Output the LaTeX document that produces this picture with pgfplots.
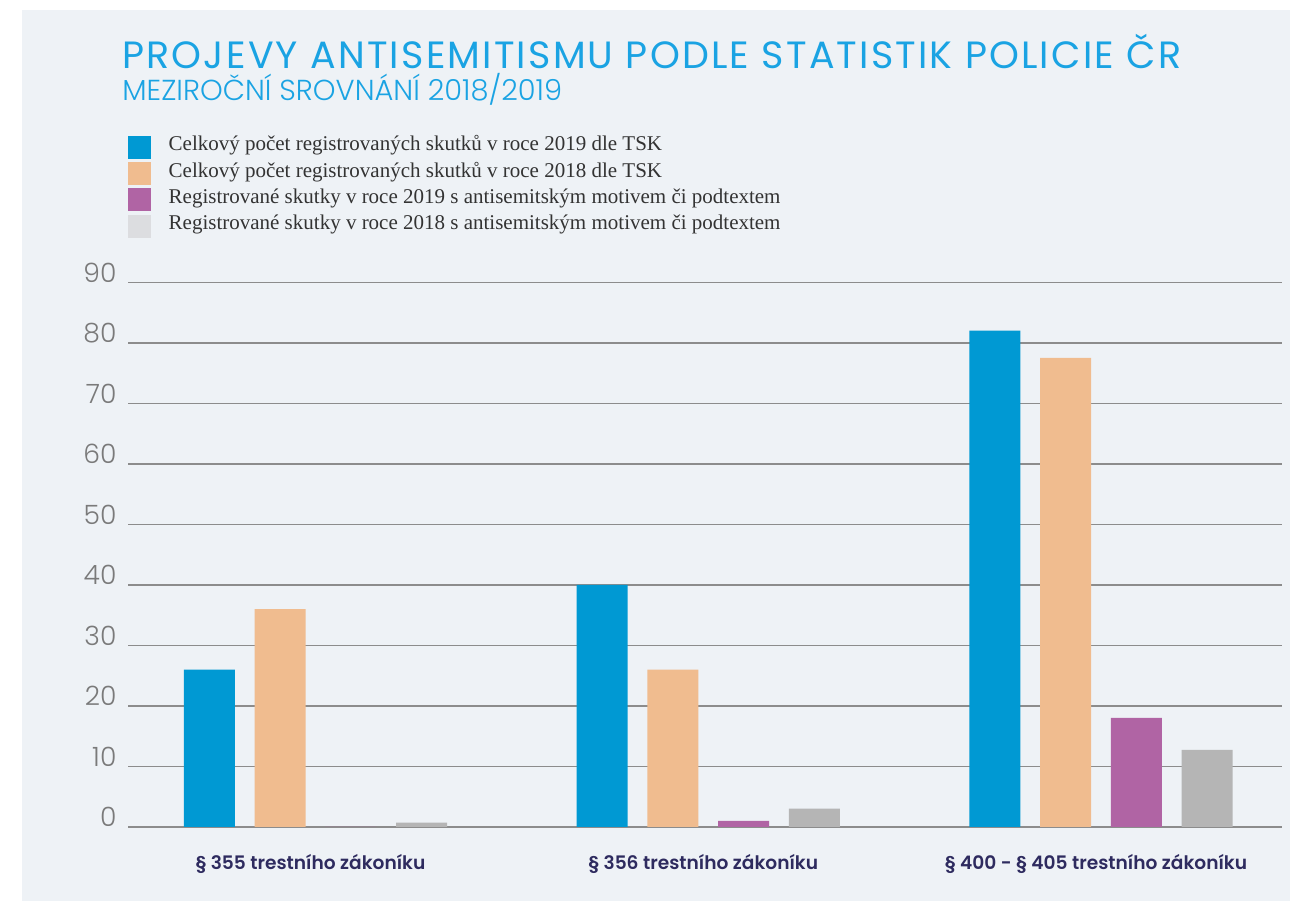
\documentclass[border=0pt]{standalone}
\usepackage{fontspec}
\usepackage{pgfplots}
\pgfplotsset{compat=1.18}
\setmainfont{Liberation Serif}
\newfontfamily\pop{Poppins}
\newfontfamily\popl{Poppins Light}
\newfontfamily\popsb{Poppins SemiBold}

\definecolor{panel}{HTML}{EEF2F6}
\definecolor{titleblue}{HTML}{1AA3E3}
\definecolor{barblue}{HTML}{0099D3}
\definecolor{barorange}{HTML}{F0BC8F}
\definecolor{barpurple}{HTML}{B064A4}
\definecolor{bargrey}{HTML}{B5B5B5}
\definecolor{leggrey}{HTML}{DCDDE0}
\definecolor{gridc}{HTML}{8C8C8C}
\definecolor{tickgrey}{HTML}{7A7A7A}
\definecolor{navy}{HTML}{2E2B5F}
\definecolor{legtext}{HTML}{333333}

\pgfplotsset{
  sq/.style={legend image code/.code={\fill[#1] (0pt,-5.75pt) rectangle (11.5pt,5.75pt);}},
}

\begin{document}
\begin{tikzpicture}
\fill[white] (0,0) rectangle (645pt,450.5pt);
\fill[panel] (11pt,0) rectangle (645pt,445.5pt);
\node[anchor=base west, inner sep=0pt, text=titleblue, font=\pop\fontsize{19}{21}\selectfont\addfontfeature{LetterSpace=5.8}]
  at (61pt,416.35pt) {PROJEVY ANTISEMITISMU PODLE STATISTIK POLICIE ČR};
\node[anchor=base west, inner sep=0pt, text=titleblue, font=\popl\fontsize{14.45}{16}\selectfont]
  at (61pt,400.15pt) {MEZIROČNÍ SROVNÁNÍ 2018/2019};
\begin{axis}[
    at={(64pt,37.1pt)}, anchor=south west,
    scale only axis, width=577pt, height=272.25pt,
    xmin=-0.4774, xmax=2.4609, ymin=0, ymax=90,
    axis line style={draw=none}, tick style={draw=none},
    ybar, bar width=0.13,
    ytick={0,10,...,90},
    xtick={0,1,2},
    xticklabels={\S\ 355 trestního zákoníku, \S\ 356 trestního zákoníku, \S\ 400 - \S\ 405 trestního zákoníku},
    ymajorgrids, grid style={gridc, line width=0.75pt},
    /pgf/number format/assume math mode=true,
    yticklabel style={font=\popl\fontsize{13.3}{15}\selectfont, text=tickgrey, anchor=base east, inner sep=0pt, xshift=-5.6pt},
    xticklabel style={font=\popsb\fontsize{9.3}{11}\selectfont, text=navy, anchor=base, inner sep=0pt, yshift=-17pt, xshift=-2.5pt},
    legend cell align=left,
    legend style={at={(rel axis cs:0,1.2724)}, anchor=north west, draw=none, fill=none,
      inner sep=0pt, outer sep=0pt, row sep=0pt, column sep=8.85pt,
      font=\fontsize{10.5}{12}\selectfont, text=legtext,
      nodes={inner sep=0pt, text height=8.4pt, text depth=4.75pt}},
]
\addplot[fill=barblue, draw=none, bar shift=-0.27, sq=barblue] coordinates {(0,26) (1,40) (2,82)};
\addlegendentry{Celkový počet registrovaných skutků v roce 2019 dle TSK}
\addplot[fill=barorange, draw=none, bar shift=-0.09, sq=barorange] coordinates {(0,36) (1,26) (2,77.5)};
\addlegendentry{Celkový počet registrovaných skutků v roce 2018 dle TSK}
\addplot[fill=barpurple, draw=none, bar shift=0.09, sq=barpurple] coordinates {(0,0) (1,1) (2,18)};
\addlegendentry{Registrované skutky v roce 2019 s antisemitským motivem či podtextem}
\addplot[fill=bargrey, draw=none, bar shift=0.27, sq=leggrey] coordinates {(0,0.7) (1,3) (2,12.7)};
\addlegendentry{Registrované skutky v roce 2018 s antisemitským motivem či podtextem}
\end{axis}
\end{tikzpicture}
\end{document}
